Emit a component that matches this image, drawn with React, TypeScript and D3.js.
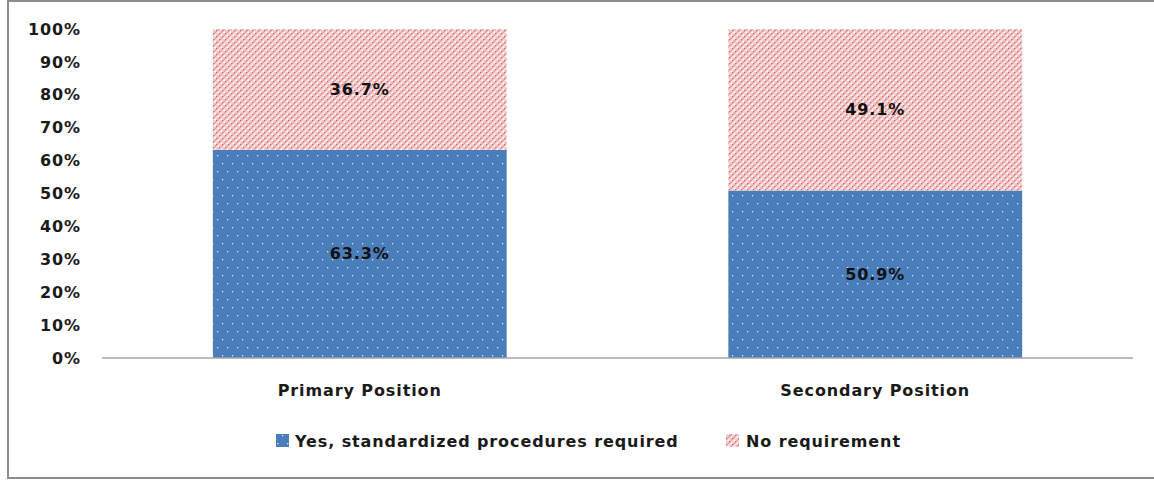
import { axisLeft, format, scaleBand, scaleLinear, select } from 'd3';
import { useEffect, useRef } from 'react';

const categories = ['Primary Position', 'Secondary Position'];
const seriesNames = ['Yes, standardized procedures required', 'No requirement'];
const yesValues = [63.3, 50.9];
const noValues = [36.7, 49.1];
const yTicks = [0, 10, 20, 30, 40, 50, 60, 70, 80, 90, 100];

const FONT = '"DejaVu Sans", sans-serif';
const FS = 16;
const LS = 0.9;
const WIDTH = 1154;
const HEIGHT = 481;
const margin = { top: 29, right: 21, bottom: 123, left: 102 };

const AxisLeft = ({ scale }: { scale: any }) => {
  const ref = useRef<SVGGElement>(null);

  useEffect(() => {
    if (ref.current) {
      const g = select(ref.current);
      g.call(
        axisLeft(scale)
          .tickValues(yTicks)
          .tickSize(0)
          .tickPadding(21)
          .tickFormat((d: any) => `${format('d')(d)}%`),
      );
      g.select('.domain').remove();
      g.selectAll('text')
        .attr('font-family', FONT)
        .attr('font-size', FS)
        .attr('font-weight', 700)
        .attr('letter-spacing', LS)
        .attr('fill', '#1a1a1a');
    }
  }, [scale]);

  return <g ref={ref} transform={`translate(${margin.left},0)`} />;
};

export default function App() {
  const plotW = WIDTH - margin.left - margin.right;
  const baseY = 358;

  const scaleX = scaleBand()
    .domain(categories)
    .range([margin.left, margin.left + plotW])
    .paddingInner(0.43)
    .paddingOuter(0.215);
  const scaleY = scaleLinear().domain([0, 100]).range([baseY, margin.top]);

  const stacks = categories.map((c, i) => ({
    label: c,
    yes: yesValues[i],
    no: noValues[i],
  }));

  const textProps = {
    fontFamily: FONT,
    fontSize: FS,
    fontWeight: 700,
    letterSpacing: LS,
    fill: '#111',
  };

  return (
    <svg
      width={WIDTH}
      height={HEIGHT}
      style={{ position: 'absolute', left: 0, top: 0, background: '#fff' }}
    >
      <defs>
        <pattern id="dots" width="10" height="16" patternUnits="userSpaceOnUse">
          <rect width="10" height="16" fill="#4a7ebb" />
          <rect x="2" y="3" width="1.3" height="1.3" fill="#d6e3f5" />
          <rect x="7" y="11" width="1.3" height="1.3" fill="#d6e3f5" />
        </pattern>
        <pattern id="check" width="6" height="6" patternUnits="userSpaceOnUse">
          <rect width="6" height="6" fill="#f5d2d2" />
          <rect x="0" y="0" width="1.5" height="1.5" fill="#d9696b" />
          <rect x="3" y="3" width="1.5" height="1.5" fill="#d9696b" />
          <rect x="1.5" y="1.5" width="1.5" height="1.5" fill="#fff" />
          <rect x="4.5" y="4.5" width="1.5" height="1.5" fill="#fff" />
          <rect x="4.5" y="1.5" width="1.5" height="1.5" fill="#e8999b" />
          <rect x="1.5" y="4.5" width="1.5" height="1.5" fill="#e8999b" />
        </pattern>
      </defs>

      {/* frame */}
      <rect x={8} y={1} width={1160} height={477} fill="none" stroke="#8c8c8c" strokeWidth={2} />

      <AxisLeft scale={scaleY} />

      {stacks.map((d) => {
        const x = scaleX(d.label) ?? 0;
        const bw = scaleX.bandwidth();
        const yYes = scaleY(d.yes);
        const yTop = scaleY(d.yes + d.no);
        return (
          <g key={d.label}>
            <rect x={x} y={yYes} width={bw} height={baseY - yYes} fill="url(#dots)" />
            <rect x={x} y={yTop} width={bw} height={yYes - yTop} fill="url(#check)" />
            <text x={x + bw / 2} y={(baseY + yYes) / 2} dy="0.35em" textAnchor="middle" {...textProps}>
              {`${d.yes.toFixed(1)}%`}
            </text>
            <text x={x + bw / 2} y={(yYes + yTop) / 2} dy="0.35em" textAnchor="middle" {...textProps}>
              {`${d.no.toFixed(1)}%`}
            </text>
            <text x={x + bw / 2} y={390} dy="0.35em" textAnchor="middle" {...textProps} fill="#1a1a1a">
              {d.label}
            </text>
          </g>
        );
      })}

      <line
        x1={margin.left}
        x2={margin.left + plotW}
        y1={baseY}
        y2={baseY}
        stroke="#a6a6a6"
        strokeWidth={1.5}
      />

      {/* legend */}
      <g {...textProps} fill="#1a1a1a">
        <rect x={276} y={434} width={13} height={13} fill="url(#dots)" />
        <text x={295} y={441} dy="0.35em">
          {seriesNames[0]}
        </text>
        <rect x={726} y={434} width={13} height={13} fill="url(#check)" />
        <text x={746} y={441} dy="0.35em">
          {seriesNames[1]}
        </text>
      </g>
    </svg>
  );
}
